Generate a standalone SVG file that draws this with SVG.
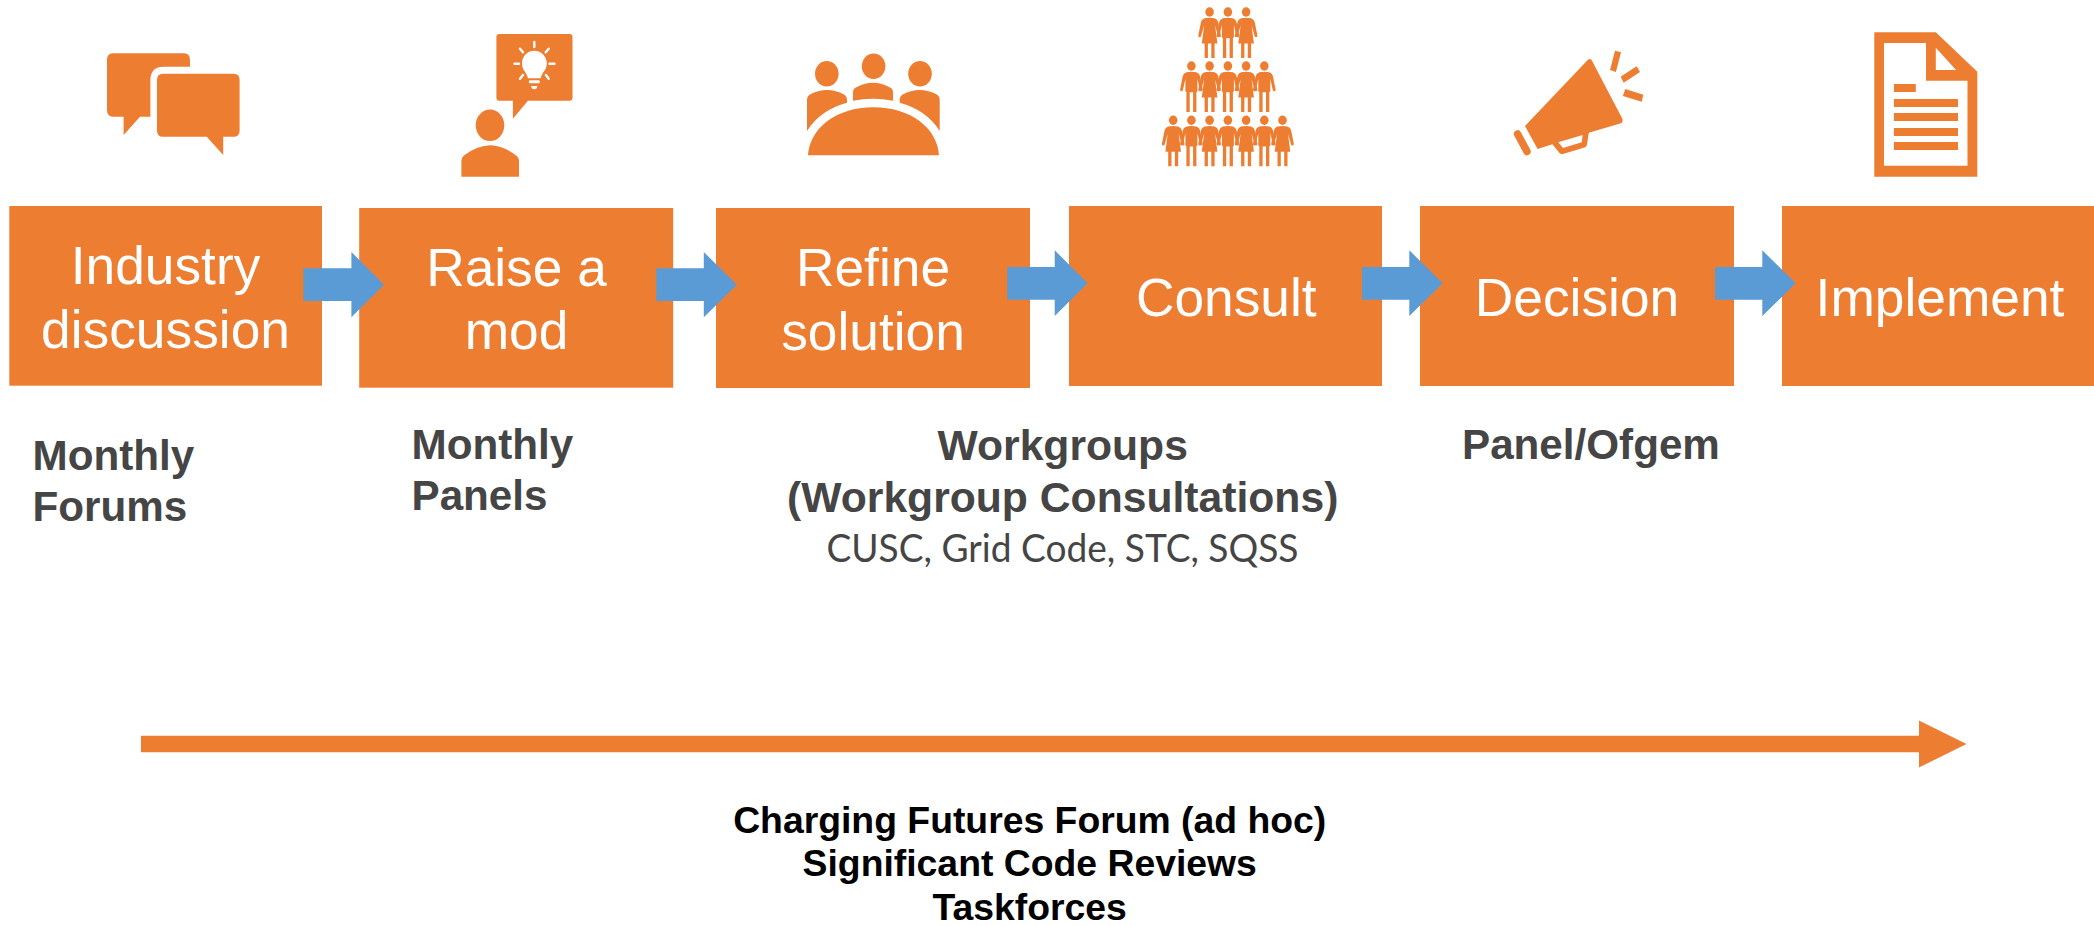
<svg xmlns="http://www.w3.org/2000/svg" width="2094" height="926" viewBox="0 0 2094 926">
<style>
.b{fill:#ED7D31}
.i{fill:#ED7D31;stroke:none}
.t{font-family:"Liberation Sans",Arial,sans-serif;font-size:53.3px;fill:#fff;text-anchor:middle}
.s{font-family:"Liberation Sans",Arial,sans-serif;font-size:42.67px;font-weight:bold;fill:#454545}
.n{font-size:42.2px}
.k{font-family:"Liberation Sans",Arial,sans-serif;font-size:37.33px;font-weight:bold;fill:#000;text-anchor:middle}
.a{fill:#5B9BD5}
.w{stroke:#fff;stroke-width:2.4;stroke-linecap:round;fill:none}
</style>
<defs>
<g id="man"><ellipse cx="0" cy="0" rx="4.3" ry="4.7" class="i"/><path class="i" d="M-5 6.300Q0 5 5 6.300Q8 7.300 8.600 10L11.300 23.500Q11.500 25.300 10 25.300Q8.800 25.300 8.500 24L6 13V25.500L5 26V46H1.700V26.300H-1.700V46H-5V26L-6 25.500V13L-8.500 24Q-8.800 25.300-10 25.300Q-11.500 25.300-11.300 23.500L-8.600 10Q-8 7.300-5 6.300Z"/></g>
<g id="woman"><ellipse cx="0" cy="0" rx="4.300" ry="4.700" class="i"/><path class="i" d="M-5 6.300Q0 5 5 6.300Q8 7.300 8.600 10L11.300 23.500Q11.500 25.300 10 25.300Q8.800 25.300 8.500 24L5.500 13.500L7.800 31.500H5V46H1.700V31.500H-1.700V46H-5V31.500H-7.800L-5.500 13.500L-8.500 24Q-8.800 25.300-10 25.300Q-11.500 25.300-11.300 23.500L-8.600 10Q-8 7.300-5 6.300Z"/></g>
</defs>
<g id="node-industry"><rect class="b" x="9.300" y="206" width="312.700" height="179.700"/><text class="t" x="165.500" y="284">Industry</text><text class="t" x="165.500" y="347.700">discussion</text></g>
<g id="node-raise"><rect class="b" x="359.200" y="208" width="314" height="179.700"/><text class="t" x="516.500" y="285.700">Raise a</text><text class="t" x="516.500" y="349.300">mod</text></g>
<g id="node-refine"><rect class="b" x="716" y="208" width="314" height="180"/><text class="t" x="873" y="286">Refine</text><text class="t" x="873" y="349.500">solution</text></g>
<g id="node-consult"><rect class="b" x="1069" y="206" width="313" height="180"/><text class="t" x="1226.300" y="315.500">Consult</text></g>
<g id="node-decision"><rect class="b" x="1420" y="206" width="314" height="180"/><text class="t" x="1577" y="315.500">Decision</text></g>
<g id="node-implement"><rect class="b" x="1782" y="206" width="312" height="180"/><text class="t" x="1940" y="315.500">Implement</text></g>
<g id="connectors">
<path class="a" d="M303.400 268.300H351.400V252L383.900 284.700L351.400 317.300V301H303.400Z"/>
<path class="a" d="M656.300 268.300H703.800V252L736.800 284.700L703.800 317.300V301H656.300Z"/>
<path class="a" d="M1007.300 267H1054.700V250.300L1087.700 283.300L1054.700 316V299.700H1007.300Z"/>
<path class="a" d="M1362 267H1409.300V250.300L1442.700 283.300L1409.300 316V299.700H1362Z"/>
<path class="a" d="M1715 267H1762.300V250.300L1795.700 283.300L1762.300 316V299.700H1715Z"/>
<path class="b" d="M141 735.700H1919V720.500L1966.500 744L1919 767.500V752.200H141Z"/>
</g>
<g id="icon-chat">
<path class="i" d="M113 53.300H184Q190 53.300 190 60V66.700H164Q150.400 66.700 150.400 80V116.700H140L123.600 135V116.700H113Q107 116.700 107 110V60Q107 53.300 113 53.300Z"/>
<path class="i" d="M163 73.700H233.600Q239.600 73.700 239.600 80V130.700Q239.600 136.700 233.600 136.700H223.200V155L206.800 136.700H163Q157 136.700 157 130.700V80Q157 73.700 163 73.700Z"/>
</g>
<g id="icon-idea">
<path class="i" d="M499.400 34H569.500Q572.500 34 572.500 37V97.700Q572.500 100.700 569.500 100.700H527.900L512.900 118.700V100.700H499.400Q496.400 100.700 496.400 97.700V37Q496.400 34 499.400 34Z"/>
<path fill="#fff" d="M534.300 50.700C527 50.700 522 56.500 522 63.500C522 70 526.500 72 528 78.300H540.700C542 72 546.800 70 546.800 63.500C546.800 56.500 541.500 50.700 534.300 50.700Z"/>
<rect x="528.800" y="80.300" width="11" height="3" rx="1.400" fill="#fff"/>
<path fill="#fff" d="M531 86H537.500L536.500 88.500Q534.300 89.800 532 88.500Z"/>
<path class="w" d="M534.300 42V47M549.500 63.700H554.500M514.500 63.700H519M520 48.700L523 52.300M548.700 48.700L545.700 52.300M520 78.700L523 75M548.700 78.700L545.900 75"/>
<ellipse class="i" cx="490" cy="125.300" rx="14.300" ry="15.700"/>
<path class="i" d="M461.400 176.700V161Q461.400 157.500 464 155.500Q476 146 490 145.300Q504 146 516 155.500Q519 157.500 519 161V176.700Z"/>
</g>
<g id="icon-table">
<ellipse class="i" cx="826.800" cy="73.700" rx="11.800" ry="12.700"/>
<ellipse class="i" cx="873.600" cy="66.300" rx="11.800" ry="12.700"/>
<ellipse class="i" cx="920" cy="73.700" rx="11.800" ry="12.700"/>
<path class="i" d="M807 131V100Q807 96 810 94.500Q818 90 827 90Q836 90 844 94.500Q847 96 847 100V102.700Q820 110 807 131Z"/>
<path class="i" d="M939.700 131V100Q939.700 96 936.700 94.500Q928.700 90 919.700 90Q910.700 90 902.700 94.500Q899.700 96 899.700 100V102.700Q926.700 110 939.700 131Z"/>
<path class="i" d="M853 100.700V92Q853 89 856 87.500Q864 82.700 873 82.700Q882 82.700 890 87.500Q893 89 893 92V100.700Q873 97 853 100.700Z"/>
<path class="i" d="M807.900 155.300C810 128 836 107.300 873.400 107.300C911 107.300 937 128 939 155.300Z"/>
</g>
<g id="icon-people">
<use href="#woman" x="1209.600" y="12"/><use href="#man" x="1227.900" y="12"/><use href="#woman" x="1246.100" y="12"/>
<use href="#man" x="1191.400" y="66"/><use href="#woman" x="1209.600" y="66"/><use href="#man" x="1227.900" y="66"/><use href="#woman" x="1246.100" y="66"/><use href="#man" x="1264.300" y="66"/>
<use href="#woman" x="1173.200" y="120.300"/><use href="#man" x="1191.400" y="120.300"/><use href="#woman" x="1209.600" y="120.300"/><use href="#man" x="1227.900" y="120.300"/><use href="#woman" x="1246.100" y="120.300"/><use href="#man" x="1264.300" y="120.300"/><use href="#woman" x="1282.500" y="120.300"/>
</g>
<g id="icon-megaphone">
<path class="i" fill-rule="evenodd" d="M1587.700 60Q1589.700 58 1591.600 60L1622.500 119Q1623 122.500 1621 123.300L1588.800 132.700L1587 144.500Q1586.500 146.800 1584.500 147.500L1563 154Q1560.800 154.500 1559.500 153L1552.400 144.300L1537.600 149L1525 126ZM1558.300 142.300L1582.600 135L1581.800 142.300L1563 148Z"/>
<path d="M1517.600 134L1527 151.500" stroke="#ED7D31" stroke-width="7.500" stroke-linecap="round" fill="none"/>
<path class="i" d="M1615 50.700L1621 52.300L1615.900 72L1610 70ZM1636.600 66.300L1640 72L1623.700 82.700L1620.600 76.700ZM1625.300 89L1643.300 94.700L1641.700 101.700L1622.900 96Z"/>
</g>
<g id="icon-document">
<path class="i" fill-rule="evenodd" d="M1874.300 32.300H1935.800L1977.300 71.700V176.700H1874.300ZM1884 43V165.700H1967.500V80.700H1926V43ZM1935.800 47.700V70H1956.100Z"/>
<path class="i" d="M1893.900 84H1915.800V92H1893.900ZM1893.900 99H1958V107H1893.900ZM1893.900 113H1958V121H1893.900ZM1893.900 128H1958V136H1893.900ZM1893.900 142H1958V150H1893.900Z"/>
</g>
<g id="labels">
<text class="s n" x="32.500" y="470">Monthly</text>
<text class="s n" x="32.500" y="521">Forums</text>
<text class="s n" x="411.500" y="459.300">Monthly</text>
<text class="s n" x="411.500" y="510.300">Panels</text>
<text class="s" x="1062.700" y="460" text-anchor="middle">Workgroups</text>
<text class="s" x="1062.700" y="511.500" text-anchor="middle">(Workgroup Consultations)</text>
<text x="826.500" y="562.300" font-family="Lato,'Open Sans',sans-serif" font-size="38" fill="#454545" textLength="472" lengthAdjust="spacingAndGlyphs">CUSC, Grid Code, STC, SQSS</text>
<text class="s n" x="1462" y="459">Panel/Ofgem</text>
<text class="k" x="1029.700" y="833">Charging Futures Forum (ad hoc)</text>
<text class="k" x="1029.700" y="876">Significant Code Reviews</text>
<text class="k" x="1029.700" y="920">Taskforces</text>
</g>
</svg>
